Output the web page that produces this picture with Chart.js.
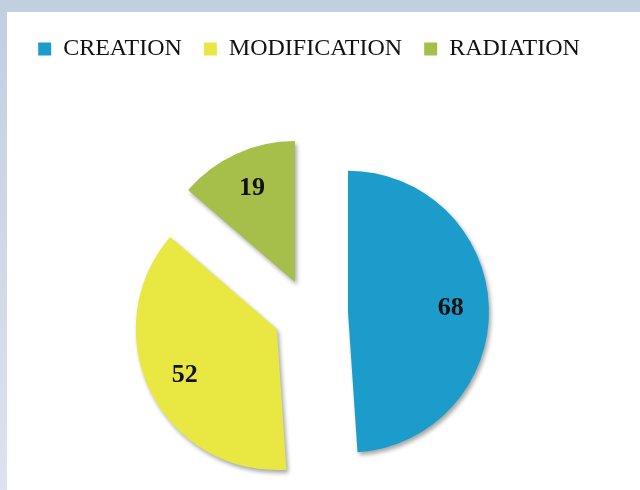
<!DOCTYPE html>
<html>
<head>
<meta charset="utf-8">
<script src="https://cdn.jsdelivr.net/npm/chart.js@4/dist/chart.umd.min.js"></script>
<style>
  html, body { margin: 0; padding: 0; }
  body {
    width: 640px; height: 490px; overflow: hidden;
    background: linear-gradient(180deg, #c2cfe1 0%, #cfd8e8 50%, #dde2ef 100%);
  }
  .panel {
    position: absolute; left: 7px; top: 12px;
    width: 633px; height: 560px; background: #fff;
  }
</style>
</head>
<body>
<div class="panel"><canvas id="pieChart" width="633" height="560"></canvas></div>
<script>
const categories = ['CREATION', 'MODIFICATION', 'RADIATION'];
const values = [68, 52, 19];
const sliceColors = ['#1b9cca', '#e9e842', '#a6be4a'];
const explode = [156, 144, 136];

const RADIUS = 141;

// arcs with an offset get a bigger radius and narrower angle in Chart.js, undo that
const keepRadius = {
  id: 'keepRadius',
  afterDatasetUpdate(chart, args) {
    args.meta.data.forEach((arc) => {
      const o = (arc.options.offset || 0) / 4;
      const fix = 1 - Math.sin(Math.min(Math.PI, arc.circumference));
      const ro = o * fix;
      const half = ro / (Math.PI * RADIUS) / 2;
      arc.outerRadius = RADIUS - ro;
      arc.startAngle -= half;
      arc.endAngle += half;
    });
  },
};

const sliceShadow = {
  id: 'sliceShadow',
  beforeDatasetsDraw(chart) {
    const ctx = chart.ctx;
    ctx.save();
    ctx.shadowColor = 'rgba(0,0,0,0.35)';
    ctx.shadowBlur = 4;
    ctx.shadowOffsetX = 2;
    ctx.shadowOffsetY = 3;
  },
  afterDatasetsDraw(chart) {
    chart.ctx.restore();
  },
};

const sliceLabels = {
  id: 'sliceLabels',
  afterDraw(chart) {
    const ctx = chart.ctx;
    const meta = chart.getDatasetMeta(0);
    ctx.save();
    ctx.font = 'bold 26px "Liberation Serif", serif';
    ctx.fillStyle = '#111';
    ctx.textAlign = 'center';
    ctx.textBaseline = 'middle';
    meta.data.forEach((arc, i) => {
      const mid = (arc.startAngle + arc.endAngle) / 2;
      const shift = (arc.options.offset || 0) / 4 + RADIUS * 0.73;
      ctx.fillText(values[i], arc.x + Math.cos(mid) * shift, arc.y + Math.sin(mid) * shift);
    });
    ctx.restore();
  },
};

new Chart(document.getElementById('pieChart'), {
  type: 'pie',
  data: {
    labels: categories,
    datasets: [{
      data: values,
      backgroundColor: sliceColors,
      borderWidth: 0,
      offset: explode,
      hoverOffset: 0,
    }],
  },
  options: {
    responsive: false,
    animation: false,
    radius: RADIUS,
    layout: { padding: { top: 3, left: 0, right: 29, bottom: 17 } },
    plugins: {
      legend: {
        position: 'top',
        labels: {
          boxWidth: 13,
          boxHeight: 13,
          padding: 22,
          color: '#111',
          font: { family: '"Liberation Serif", serif', size: 24 },
        },
      },
      tooltip: { enabled: false },
    },
  },
  plugins: [keepRadius, sliceShadow, sliceLabels],
});
</script>
</body>
</html>
